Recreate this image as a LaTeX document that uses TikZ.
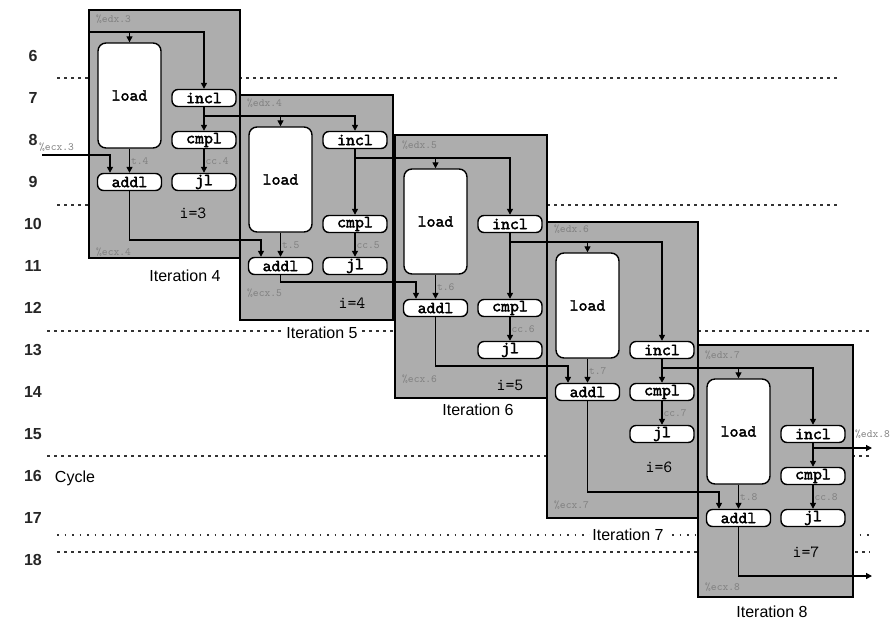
\documentclass[tikz,border=0pt]{standalone}
\usepackage{fontspec}
\setmainfont{Liberation Sans}
\setmonofont{lmmono10-regular}[Extension=.otf, AutoFakeBold=2.2]
\usetikzlibrary{arrows.meta, positioning}

\begin{document}
\begin{tikzpicture}[x=1pt, y=-1pt,
		iterbox/.style={draw=black, line width=1.8pt, fill=black!32, inner sep=0pt},
		loadop/.style={draw, line width=1.4pt, fill=white, rounded corners=8pt, inner sep=0pt, minimum width=63pt, minimum height=105pt, font=\ttfamily\bfseries\fontsize{17}{17}\selectfont},
		smallop/.style={draw, line width=1.4pt, fill=white, rounded corners=6pt, inner sep=0pt, minimum width=64pt, minimum height=17pt, font=\ttfamily\bfseries\fontsize{17}{17}\selectfont},
		reg/.style={text=black!50, inner sep=1pt, font=\ttfamily\fontsize{11}{11}\selectfont},
		ival/.style={font=\ttfamily\fontsize{17}{17}\selectfont},
		itlabel/.style={fill=white, inner sep=2pt, font=\fontsize{16}{16}\selectfont},
		rownum/.style={text=black!85, font=\bfseries\fontsize{16}{16}\selectfont},
		flow/.style={line width=1.3pt, -{Triangle[length=6pt,width=6pt]}},
		rowline/.style={line width=1.2pt, black!80, dash pattern=on 3pt off 4pt},
		rowdots/.style={line width=1.2pt, black!80, dash pattern=on 1.5pt off 6pt}
		]
		\useasboundingbox (0,0) rectangle (896,622);

		% cycle rows
		\foreach \r in {6,...,18}
			\node [rownum] (row\r) at (33,{56+(\r-6)*42}) {\r};
		\node [itlabel] (cycle) at (75,478) {Cycle};
		\draw [rowline] (57,78) -- (840,78);
		\draw [rowline] (57,205) -- (840,205);
		\draw [rowline] (47,331) -- (870,331);
		\draw [rowline] (47,456) -- (870,456);
		\draw [rowdots] (57,535) -- (870,535);
		\draw [rowline] (57,552) -- (870,552);

		% iteration boxes
		\node [iterbox, minimum width=151pt, minimum height=248pt] (iter4) at (164.5,134) {};
		\node [iterbox, minimum width=153pt, minimum height=225pt] (iter5) at (316.5,207.5) {};
		\node [iterbox, minimum width=152pt, minimum height=263pt] (iter6) at (471,266.5) {};
		\node [iterbox, minimum width=151pt, minimum height=296pt] (iter7) at (622.5,370) {};
		\node [iterbox, minimum width=155pt, minimum height=252pt] (iter8) at (775.5,471) {};

		\node [itlabel] (it4) at (185,276) {Iteration 4};
		\node [itlabel] (it5) at (322,333) {Iteration 5};
		\node [itlabel] (it6) at (478,410) {Iteration 6};
		\node [itlabel] (it7) at (628,535) {Iteration 7};
		\node [itlabel] (it8) at (772,612) {Iteration 8};

		% iteration 4
		\node [loadop] (load4) at (129.5,95.5) {load};
		\node [smallop] (incl4) at (204,98) {incl};
		\node [smallop] (cmpl4) at (204,140) {cmpl};
		\node [smallop] (jl4) at (204,182) {jl};
		\node [smallop] (addl4) at (129.5,182) {addl};
		\node [ival] (i3) at (193,213) {i=3};

		% iteration 5
		\node [loadop] (load5) at (280.5,179.5) {load};
		\node [smallop] (incl5) at (355,140) {incl};
		\node [smallop] (cmpl5) at (355,224) {cmpl};
		\node [smallop] (jl5) at (355,266) {jl};
		\node [smallop] (addl5) at (280.5,266) {addl};
		\node [ival] (i4) at (352,303) {i=4};

		% iteration 6
		\node [loadop] (load6) at (435.5,221.5) {load};
		\node [smallop] (incl6) at (510,224) {incl};
		\node [smallop] (cmpl6) at (510,308) {cmpl};
		\node [smallop] (jl6) at (510,350) {jl};
		\node [smallop] (addl6) at (435.5,308) {addl};
		\node [ival] (i5) at (510,385) {i=5};

		% iteration 7
		\node [loadop] (load7) at (587.5,305.5) {load};
		\node [smallop] (incl7) at (662,350) {incl};
		\node [smallop] (cmpl7) at (662,392) {cmpl};
		\node [smallop] (jl7) at (662,434) {jl};
		\node [smallop] (addl7) at (587.5,392) {addl};
		\node [ival] (i6) at (659,467) {i=6};

		% iteration 8
		\node [loadop] (load8) at (738.5,431.5) {load};
		\node [smallop] (incl8) at (813,434) {incl};
		\node [smallop] (cmpl8) at (813,476) {cmpl};
		\node [smallop] (jl8) at (813,518) {jl};
		\node [smallop] (addl8) at (738.5,518) {addl};
		\node [ival] (i7) at (806,552) {i=7};

		% register lines
		\coordinate (edx3) at (89,32);
		\coordinate (edx4) at (355,116);
		\coordinate (edx5) at (510,158);
		\coordinate (edx6) at (662,242);
		\coordinate (edx7) at (813,368);
		\coordinate (edx8) at (872,448);
		\coordinate (ecx3) at (42,155);
		\coordinate (ecx4) at (261,240);
		\coordinate (ecx5) at (416,282);
		\coordinate (ecx6) at (568,366);
		\coordinate (ecx7) at (719,492);
		\coordinate (ecx8) at (872,576);

		\draw [flow] (edx3) -| (incl4);
		\draw [flow] (load4 |- edx3) -- (load4);
		\draw [flow] (ecx3) -| ([xshift=-19.5pt]addl4.north);
		\draw [flow] (load4) -- node [reg, right] (t4) {t.4} (addl4);
		\draw [flow] (incl4) -- (cmpl4);
		\draw [flow] (cmpl4) -- node [reg, right] (cc4) {cc.4} (jl4);

		\draw [flow] (incl4) |- (edx4) -- (incl5);
		\draw [flow] (load5 |- edx4) -- (load5);
		\draw [flow] (addl4) |- (ecx4) -- (addl5.north -| ecx4);
		\draw [flow] (load5) -- node [reg, right] (t5) {t.5} (addl5);
		\draw [flow] (incl5) -- (cmpl5);
		\draw [flow] (cmpl5) -- node [reg, right] (cc5) {cc.5} (jl5);

		\draw [flow] (incl5) |- (edx5) -- (incl6);
		\draw [flow] (load6 |- edx5) -- (load6);
		\draw [flow] (addl5) |- (ecx5) -- (addl6.north -| ecx5);
		\draw [flow] (load6) -- node [reg, right] (t6) {t.6} (addl6);
		\draw [flow] (incl6) -- (cmpl6);
		\draw [flow] (cmpl6) -- node [reg, right] (cc6) {cc.6} (jl6);

		\draw [flow] (incl6) |- (edx6) -- (incl7);
		\draw [flow] (load7 |- edx6) -- (load7);
		\draw [flow] (addl6) |- (ecx6) -- (addl7.north -| ecx6);
		\draw [flow] (load7) -- node [reg, right] (t7) {t.7} (addl7);
		\draw [flow] (incl7) -- (cmpl7);
		\draw [flow] (cmpl7) -- node [reg, right] (cc7) {cc.7} (jl7);

		\draw [flow] (incl7) |- (edx7) -- (incl8);
		\draw [flow] (load8 |- edx7) -- (load8);
		\draw [flow] (addl7) |- (ecx7) -- (addl8.north -| ecx7);
		\draw [flow] (load8) -- node [reg, right] (t8) {t.8} (addl8);
		\draw [flow] (incl8) -- (cmpl8);
		\draw [flow] (cmpl8) -- node [reg, right] (cc8) {cc.8} (jl8);
		\draw [flow] (incl8) |- (edx8);
		\draw [flow] (addl8) |- (ecx8);

		% register names
		\node [reg, anchor=west] (ledx3) at (95,19) {\%edx.3};
		\node [reg, anchor=west] (ledx4) at (246,103) {\%edx.4};
		\node [reg, anchor=west] (ledx5) at (401,145) {\%edx.5};
		\node [reg, anchor=west] (ledx6) at (553,229) {\%edx.6};
		\node [reg, anchor=west] (ledx7) at (704,355) {\%edx.7};
		\node [reg, anchor=west] (ledx8) at (854,434) {\%edx.8};
		\node [reg, anchor=south west] (lecx3) at (38,153) {\%ecx.3};
		\node [reg, anchor=west] (lecx4) at (95,252) {\%ecx.4};
		\node [reg, anchor=west] (lecx5) at (246,293) {\%ecx.5};
		\node [reg, anchor=west] (lecx6) at (401,379) {\%ecx.6};
		\node [reg, anchor=west] (lecx7) at (553,505) {\%ecx.7};
		\node [reg, anchor=west] (lecx8) at (704,587) {\%ecx.8};
	\end{tikzpicture}
\end{document}
